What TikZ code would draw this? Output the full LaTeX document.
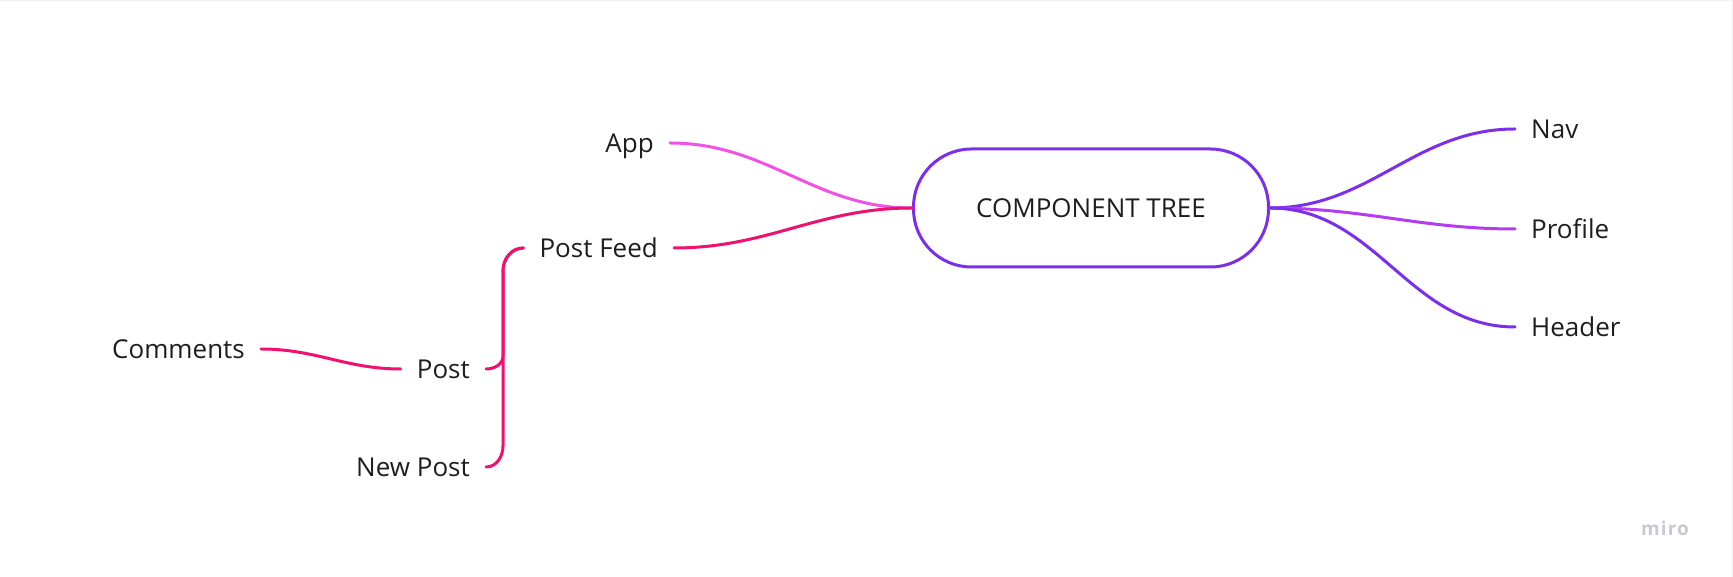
\documentclass[tikz,border=0pt]{standalone}
\usepackage{fontspec}
\setmainfont{Open Sans}
\usepackage{tikz}
\usetikzlibrary{positioning}
\definecolor{treepurple}{HTML}{7B2FEB}
\definecolor{profilepurple}{HTML}{B23CF2}
\definecolor{apppink}{HTML}{F252E4}
\definecolor{feedpink}{HTML}{F2106E}
\definecolor{labelgray}{HTML}{1E1E1E}
\definecolor{mirogray}{HTML}{C8C8D0}

\begin{document}
\begin{tikzpicture}[x=1pt, y=1pt,
  font=\fontsize{26}{30}\selectfont, text=labelgray,
  lbl/.style={inner xsep=16pt, inner ysep=0pt, text height=21pt, text depth=1pt},
  branch/.style={line width=3pt, line cap=round},
  root/.style={draw=treepurple, line width=3pt, rounded corners=58pt,
    minimum width=355pt, minimum height=118pt, inner sep=0pt}]
% canvas
\useasboundingbox (0,0) rectangle (1733,577);
\draw[gray!12, line width=1pt] (0,576.5) -- (1732.5,576.5) -- (1732.5,0);
% centre node
\node[root] (tree) at (1091,369) {COMPONENT TREE};
% left side
\node[lbl, anchor=east] (app) at (670,434) {App};
\node[lbl, anchor=east] (feed) at (674,329) {Post Feed};
\node[lbl, anchor=east] (post) at (486,208) {Post};
\node[lbl, anchor=east] (newpost) at (486,110) {New Post};
\node[lbl, anchor=east] (comments) at (261,228) {Comments};
% right side
\node[lbl, anchor=west] (nav) at (1515,448) {Nav};
\node[lbl, anchor=west] (profile) at (1515,348) {Profile};
\node[lbl, anchor=west] (header) at (1515,250) {Header};
% watermark
\node[text=mirogray, font=\bfseries\fontsize{19}{20}\selectfont\addfontfeature{LetterSpace=6}] (miro) at (1665,49) {miro};
% branches into the root
\draw[branch, apppink] (app.east) to[out=0, in=180] (tree.west);
\draw[branch, feedpink] (feed.east) to[out=0, in=180] (tree.west);
\foreach \leaf/\col in {nav/treepurple, profile/profilepurple, header/treepurple}{
  \draw[branch, \col] (tree.east) to[out=0, in=180] (\leaf.west);
}
% brace to the children of Post Feed
\coordinate (spinetop) at (503,306);
\coordinate (spinemid) at (503,221);
\coordinate (spinelow) at (503,131);
\draw[branch, feedpink] (feed.west) to[out=180, in=90] (spinetop) -- (spinemid) to[out=-90, in=0] (post.east);
\draw[branch, feedpink] (feed.west) to[out=180, in=90] (spinetop) -- (spinelow) to[out=-90, in=0] (newpost.east);
\draw[branch, feedpink] (comments.east) to[out=0, in=180] (post.west);
\end{tikzpicture}
\end{document}
